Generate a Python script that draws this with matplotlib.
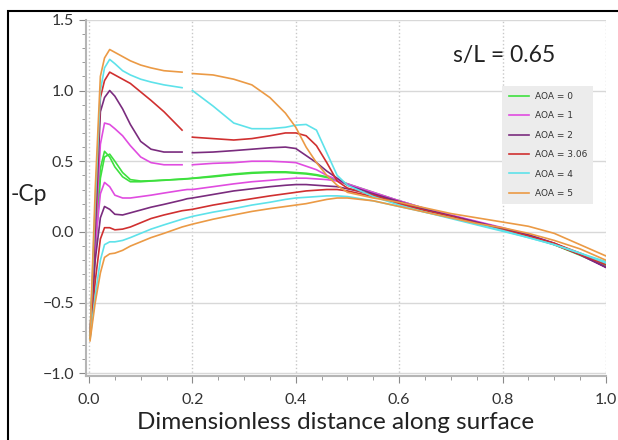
import numpy as np
import matplotlib
matplotlib.use("Agg")
import matplotlib.pyplot as plt
from matplotlib.patches import Rectangle
from matplotlib.ticker import MultipleLocator

nan = np.nan

# shared surface-distance grid (upper-surface lines have a gap at 0.19)
s = [0.002, 0.012, 0.022, 0.030, 0.040, 0.050, 0.065, 0.080, 0.100, 0.120,
     0.145, 0.180, 0.190, 0.200, 0.240, 0.280, 0.315, 0.350, 0.380, 0.400,
     0.420, 0.440, 0.460, 0.480, 0.500, 0.550, 0.600, 0.650, 0.700, 0.750,
     0.800, 0.850, 0.900, 0.950, 1.000]

aoa_labels = ["AOA = 0", "AOA = 1", "AOA = 2", "AOA = 3.06", "AOA = 4", "AOA = 5"]
colors = ["#3ee03e", "#e04ce0", "#7a2c7e", "#d03030", "#5ee2ea", "#eb9a45"]

# -Cp, upper surface
cp_up_0 = [-0.73, -0.10, 0.45, 0.57, 0.53, 0.46, 0.39, 0.355, 0.355, 0.36,
           0.365, 0.375, 0.377, 0.38, 0.395, 0.41, 0.42, 0.425, 0.425, 0.42,
           0.415, 0.405, 0.39, 0.37, 0.34, 0.28, 0.22, 0.165, 0.115, 0.07,
           0.025, -0.025, -0.085, -0.16, -0.24]
cp_up_1 = [-0.73, -0.05, 0.62, 0.77, 0.76, 0.73, 0.68, 0.61, 0.53, 0.49,
           0.475, 0.475, nan, 0.475, 0.485, 0.49, 0.50, 0.50, 0.495, 0.49,
           0.465, 0.44, 0.40, 0.37, 0.335, 0.275, 0.22, 0.165, 0.12, 0.075,
           0.03, -0.02, -0.08, -0.16, -0.25]
cp_up_2 = [-0.74, 0.00, 0.85, 0.95, 1.00, 0.96, 0.87, 0.76, 0.64, 0.585,
           0.565, 0.565, nan, 0.56, 0.565, 0.575, 0.585, 0.595, 0.60, 0.59,
           0.54, 0.49, 0.43, 0.38, 0.33, 0.27, 0.215, 0.16, 0.115, 0.07,
           0.025, -0.02, -0.08, -0.16, -0.25]
cp_up_3 = [-0.74, 0.10, 0.95, 1.07, 1.13, 1.11, 1.08, 1.05, 0.99, 0.93,
           0.85, 0.72, nan, 0.67, 0.66, 0.65, 0.66, 0.68, 0.70, 0.70,
           0.68, 0.61, 0.49, 0.36, 0.31, 0.26, 0.20, 0.15, 0.11, 0.06,
           0.015, -0.03, -0.09, -0.16, -0.23]
cp_up_4 = [-0.74, 0.20, 1.00, 1.16, 1.22, 1.19, 1.14, 1.11, 1.08, 1.06,
           1.04, 1.02, nan, 1.00, 0.89, 0.77, 0.73, 0.73, 0.74, 0.755,
           0.76, 0.72, 0.56, 0.40, 0.33, 0.25, 0.19, 0.14, 0.10, 0.055,
           0.01, -0.04, -0.09, -0.15, -0.21]
cp_up_5 = [-0.75, 0.30, 1.10, 1.23, 1.29, 1.27, 1.24, 1.21, 1.18, 1.16,
           1.14, 1.13, nan, 1.12, 1.11, 1.08, 1.04, 0.95, 0.84, 0.74,
           0.60, 0.49, 0.40, 0.33, 0.28, 0.24, 0.21, 0.17, 0.13, 0.10,
           0.07, 0.04, -0.01, -0.09, -0.17]

# -Cp, lower surface
cp_lo_0 = [-0.74, -0.15, 0.38, 0.53, 0.55, 0.50, 0.42, 0.37, 0.36, 0.362,
           0.367, 0.372, 0.375, 0.378, 0.39, 0.405, 0.415, 0.42, 0.42, 0.415,
           0.41, 0.40, 0.385, 0.365, 0.335, 0.275, 0.215, 0.16, 0.11, 0.065,
           0.02, -0.03, -0.09, -0.165, -0.245]
cp_lo_1 = [-0.74, -0.10, 0.27, 0.35, 0.32, 0.26, 0.24, 0.24, 0.25, 0.26,
           0.275, 0.295, 0.30, 0.30, 0.32, 0.34, 0.355, 0.365, 0.375, 0.38,
           0.38, 0.375, 0.37, 0.36, 0.34, 0.28, 0.22, 0.165, 0.115, 0.07,
           0.025, -0.025, -0.085, -0.16, -0.25]
cp_lo_2 = [-0.74, -0.20, 0.10, 0.18, 0.16, 0.125, 0.12, 0.135, 0.155, 0.175,
           0.195, 0.225, 0.235, 0.24, 0.265, 0.29, 0.305, 0.32, 0.33, 0.335,
           0.335, 0.33, 0.325, 0.32, 0.305, 0.265, 0.21, 0.155, 0.11, 0.065,
           0.02, -0.03, -0.085, -0.16, -0.25]
cp_lo_3 = [-0.75, -0.35, -0.05, 0.03, 0.03, 0.015, 0.02, 0.035, 0.065, 0.095,
           0.12, 0.15, 0.155, 0.16, 0.19, 0.215, 0.235, 0.255, 0.27, 0.28,
           0.29, 0.295, 0.30, 0.30, 0.29, 0.25, 0.20, 0.15, 0.10, 0.06,
           0.015, -0.03, -0.08, -0.15, -0.23]
cp_lo_4 = [-0.76, -0.45, -0.20, -0.09, -0.07, -0.07, -0.06, -0.04, -0.01, 0.02,
           0.05, 0.09, 0.10, 0.11, 0.14, 0.165, 0.19, 0.21, 0.23, 0.24,
           0.245, 0.25, 0.255, 0.255, 0.25, 0.22, 0.18, 0.14, 0.095, 0.05,
           0.005, -0.04, -0.09, -0.15, -0.22]
cp_lo_5 = [-0.77, -0.50, -0.29, -0.18, -0.155, -0.15, -0.13, -0.10, -0.07, -0.04,
           -0.01, 0.035, 0.045, 0.055, 0.09, 0.12, 0.145, 0.165, 0.18, 0.19,
           0.20, 0.215, 0.23, 0.24, 0.24, 0.22, 0.18, 0.14, 0.10, 0.06,
           0.03, -0.01, -0.06, -0.12, -0.20]

upper = [cp_up_0, cp_up_1, cp_up_2, cp_up_3, cp_up_4, cp_up_5]
lower = [cp_lo_0, cp_lo_1, cp_lo_2, cp_lo_3, cp_lo_4, cp_lo_5]

fig = plt.figure(figsize=(6.18, 4.4), dpi=100)
ax = fig.add_axes([0.139, 0.145, 0.8415, 0.81])

for lab, col, up, lo in zip(aoa_labels, colors, upper, lower):
    ax.plot(s, lo, color=col, lw=1.2)
    ax.plot(s, up, color=col, lw=1.2, label=lab)

ax.set_xlim(-0.006, 1.0)
ax.set_ylim(-1.02, 1.5)
ax.xaxis.set_major_locator(MultipleLocator(0.2))
ax.xaxis.set_minor_locator(MultipleLocator(0.05))
ax.yaxis.set_major_locator(MultipleLocator(0.5))
ax.yaxis.set_minor_locator(MultipleLocator(0.1))
ax.set_xticklabels([f"{v:.1f}" for v in ax.get_xticks()])

ax.grid(True, axis="y", color="#d8d8d8", lw=1.0)
ax.grid(True, axis="x", color="#c8c8c8", lw=1.0, ls=":")
ax.set_axisbelow(True)
for side in ("top", "right"):
    ax.spines[side].set_visible(False)
for side in ("left", "bottom"):
    ax.spines[side].set_color("#b5b5b5")
    ax.spines[side].set_linewidth(1.5)

ax.tick_params(which="both", colors="#8a8a8a", direction="out")
ax.tick_params(which="major", length=5, labelsize=11.5, labelcolor="#333333")
ax.tick_params(which="minor", length=3)
ax.tick_params(axis="x", pad=7)
for t in ax.get_xticklabels() + ax.get_yticklabels():
    t.set_family("Lato")

ax.set_xlabel("Dimensionless distance along surface", fontsize=17.5,
              family="Lato", color="#222222", labelpad=4)
ax.xaxis.label.set_x(0.48)
fig.text(0.018, 0.557, "-Cp", fontsize=16.5, family="Lato", color="#222222",
         va="center", ha="left")
ax.text(0.805, 0.9, "s/L = 0.65", transform=ax.transAxes, fontsize=16.5,
        family="Lato", color="#222222", ha="center", va="center")

leg = ax.legend(loc="upper left", bbox_to_anchor=(0.797, 0.82), fontsize=6.5,
                frameon=True, fancybox=False, facecolor="#ececec",
                edgecolor="none", framealpha=1, handlelength=2.3,
                labelspacing=1.15, borderpad=0.7, handletextpad=0.6,
                borderaxespad=0.2)
for t in leg.get_texts():
    t.set_color("#333333")

# outer figure border
fig.add_artist(Rectangle((8 / 618, -0.1), 1.2, 0.1 + 1 - 11 / 440,
                         transform=fig.transFigure, fill=False,
                         edgecolor="black", lw=1.5))

fig.savefig("out.png", dpi=100)
